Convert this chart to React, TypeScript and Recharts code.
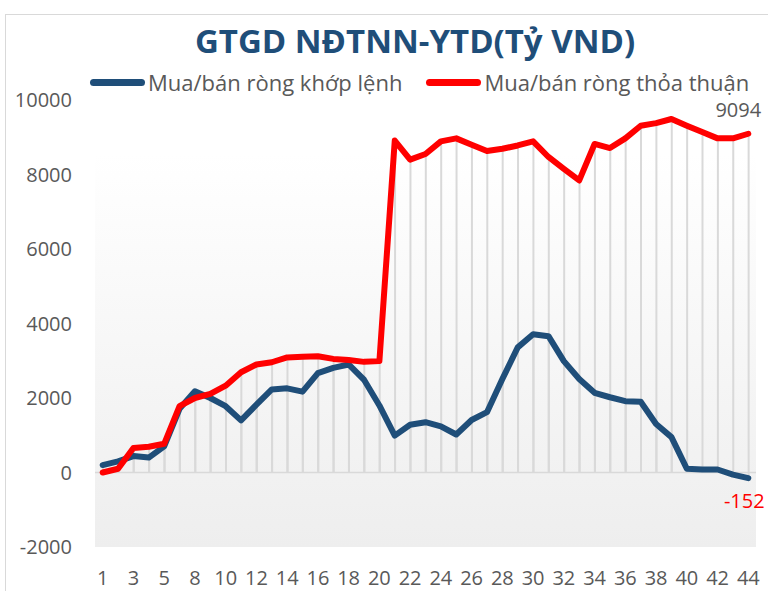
import React from 'react';
import { ComposedChart, Line, Bar, XAxis, YAxis, CartesianGrid, ReferenceLine, Legend, LabelList } from 'recharts';

const categories = ['1','2','3','4','5','6','8','9','10','11','12','13','14','15','16','17','18','19','20','21','22','23','24','25','26','27','28','29','30','31','32','33','34','35','36','37','38','39','40','41','42','43','44'];

const khopLenh = [200, 300, 440, 400, 700, 1710, 2180, 2000, 1780, 1400, 1820, 2230, 2260, 2170, 2670, 2810, 2900, 2490, 1800, 990, 1280, 1350, 1240, 1020, 1410, 1620, 2510, 3360, 3710, 3660, 2990, 2510, 2140, 2020, 1915, 1900, 1300, 950, 100, 80, 80, -55, -152];

const thoaThuan = [0, 100, 660, 690, 770, 1780, 2000, 2110, 2330, 2690, 2900, 2960, 3090, 3110, 3120, 3050, 3020, 2970, 2990, 8910, 8400, 8550, 8890, 8970, 8800, 8630, 8690, 8780, 8890, 8470, 8150, 7840, 8820, 8710, 8970, 9310, 9380, 9490, 9310, 9140, 8970, 8970, 9094];

const yTicks = [-2000, 0, 2000, 4000, 6000, 8000, 10000];

const seriesNames = ['Mua/bán ròng khớp lệnh', 'Mua/bán ròng thỏa thuận'];
const title = 'GTGD NĐTNN-YTD(Tỷ VND)';

const data = categories.map((c, i) => ({ day: c, khop: khopLenh[i], thoa: thoaThuan[i] }));

const BLUE = '#1f4e79';
const RED = '#ff0000';
const FONT = "'Open Sans', 'Noto Sans', sans-serif";

const makeEndLabel = (color: string, dx: number, dy: number) => (props: any) => {
  const { x, y, index, value } = props;
  if (index !== categories.length - 1) return null;
  return (
    <text x={x + dx} y={y + dy} fill={color} fontSize={20} fontFamily={FONT} textAnchor="middle">
      {value}
    </text>
  );
};

const LegendContent = () => (
  <div style={{ display: 'flex', alignItems: 'center', fontFamily: FONT, fontSize: 22, color: '#595959', whiteSpace: 'nowrap', lineHeight: '30px' }}>
    <span style={{ display: 'inline-block', width: 55, height: 7, borderRadius: 4, background: BLUE, marginRight: 3 }} />
    <span style={{ marginRight: 24 }}>{seriesNames[0]}</span>
    <span style={{ display: 'inline-block', width: 55, height: 7, borderRadius: 4, background: RED, marginRight: 3 }} />
    <span>{seriesNames[1]}</span>
  </div>
);

export default function App() {
  return (
    <div style={{ position: 'absolute', left: 0, top: 0, width: 768, height: 591, overflow: 'hidden', background: '#fff' }}>
      <div style={{ position: 'absolute', left: 5, top: 14, width: 800, height: 640, border: '1px solid #d9d9d9', boxSizing: 'border-box' }} />
      <div style={{ position: 'absolute', left: 0, width: 830, top: 19, textAlign: 'center', fontFamily: FONT, fontWeight: 700, fontSize: 33, color: BLUE, lineHeight: '44px' }}>
        {title}
      </div>
      <div style={{ position: 'absolute', left: 0, top: 0 }}>
        <ComposedChart width={768} height={591} data={data} margin={{ top: 100, right: 12, bottom: 0, left: 0 }} barGap={-2}>
          <defs>
            <linearGradient id="plotBg" x1="0" y1="0" x2="0" y2="1">
              <stop offset="0" stopColor="#ffffff" />
              <stop offset="0.12" stopColor="#ffffff" />
              <stop offset="1" stopColor="#eeeeee" />
            </linearGradient>
          </defs>
          <CartesianGrid horizontal={false} vertical={false} fill="url(#plotBg)" stroke="none" />
          <XAxis dataKey="day" interval={1} axisLine={false} tickLine={false} height={44} tickMargin={18} tick={{ fill: '#595959', fontSize: 20, fontFamily: FONT }} />
          <YAxis domain={[-2000, 10000]} ticks={yTicks} width={95} axisLine={false} tickLine={false} tickMargin={17} tick={{ fill: '#595959', fontSize: 20, fontFamily: FONT }} />
          <Legend layout="horizontal" verticalAlign="middle" align="center" wrapperStyle={{ top: 67, left: 90, width: 700, height: 30 }} content={<LegendContent />} />
          <ReferenceLine y={0} stroke="#d9d9d9" strokeWidth={1.5} />
          <Bar dataKey="thoa" barSize={2} fill="#d9d9d9" isAnimationActive={false} legendType="none" />
          <Bar dataKey="khop" barSize={2} fill="#d9d9d9" isAnimationActive={false} legendType="none" />
          <Line type="linear" dataKey="khop" name={seriesNames[0]} stroke={BLUE} strokeWidth={6} dot={false} strokeLinejoin="round" strokeLinecap="round" isAnimationActive={false}>
            <LabelList dataKey="khop" content={makeEndLabel(RED, -4, 30)} />
          </Line>
          <Line type="linear" dataKey="thoa" name={seriesNames[1]} stroke={RED} strokeWidth={6} dot={false} strokeLinejoin="round" strokeLinecap="round" isAnimationActive={false}>
            <LabelList dataKey="thoa" content={makeEndLabel('#595959', -10, -17)} />
          </Line>
        </ComposedChart>
      </div>
    </div>
  );
}
